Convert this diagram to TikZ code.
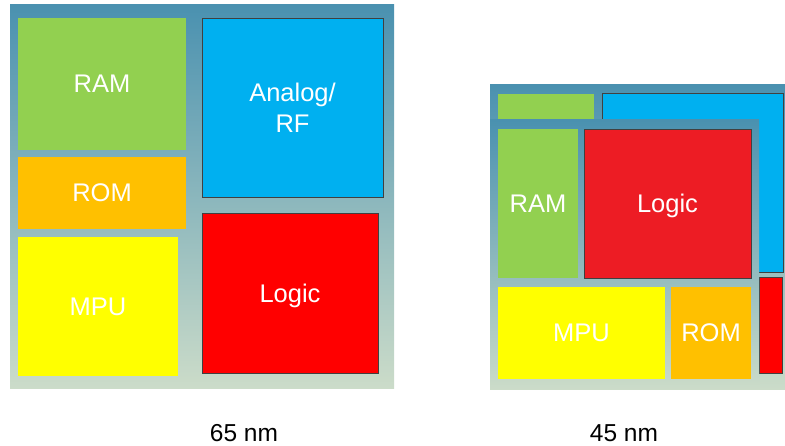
\documentclass[tikz,border=0pt]{standalone}
\usepackage{fontspec}
\setmainfont{Liberation Sans}
\usepackage{tikz}
\usetikzlibrary{positioning}

\definecolor{chiptop}{HTML}{4A91B0}
\definecolor{chipbot}{HTML}{CCDCC9}
\definecolor{ramgreen}{HTML}{92D050}
\definecolor{romorange}{HTML}{FFC000}
\definecolor{mpuyellow}{HTML}{FFFF00}
\definecolor{rfblue}{HTML}{00B0F0}
\definecolor{logicred}{HTML}{FF0000}
\definecolor{logicdark}{HTML}{ED1C24}

\tikzset{
  panel/.style={anchor=north west, inner sep=0pt, outer sep=0pt,
    top color=chiptop, bottom color=chipbot, draw=none},
  blk/.style={anchor=north west, inner sep=0pt, outer sep=0pt, text=white,
    align=center, text depth=0pt, font=\fontsize{25.5}{31}\selectfont},
  edged/.style={draw=black!75, line width=0.8pt},
  sizelbl/.style={font=\fontsize{24.5}{29}\selectfont, text=black}
}

\begin{document}
\begin{tikzpicture}[x=1pt, y=-1pt]
      \useasboundingbox (0,0) rectangle (785,446);

      % 65 nm chip
      \node[panel, minimum width=384pt, minimum height=384pt] (chip65) at (10,5) {};
      \node[blk, fill=ramgreen, minimum width=168pt, minimum height=132pt] (ram65) at (18,18) {RAM};
      \node[blk, fill=romorange, minimum width=168pt, minimum height=72pt] (rom65) at (18,157) {ROM};
      \node[blk, fill=mpuyellow, minimum width=160pt, minimum height=139pt] (mpu65) at (18,237) {MPU};
      \node[blk, edged, fill=rfblue, minimum width=181pt, minimum height=179pt] (rf65) at (202,18) {Analog/\\RF};
      \node[blk, edged, fill=logicred, minimum width=176pt, minimum height=160pt] (logic65) at (202,213) {Logic};

      % 45 nm chip, old floorplan behind
      \node[panel, minimum width=295pt, minimum height=305pt] (old45) at (490,85) {};
      \node[blk, fill=ramgreen, minimum width=96pt, minimum height=30pt] (oldram45) at (498,94) {};
      \node[blk, edged, fill=rfblue, minimum width=181pt, minimum height=179pt] (oldrf45) at (602,93) {};
      \node[blk, edged, fill=logicred, minimum width=23pt, minimum height=96pt] (oldlogic45) at (759,277) {};

      % 45 nm chip, shrunk floorplan
      \node[panel, minimum width=269pt, minimum height=270pt] (chip45) at (490,120) {};
      \node[blk, fill=ramgreen, minimum width=80pt, minimum height=149pt] (ram45) at (498,129) {RAM};
      \node[blk, edged, fill=logicdark, minimum width=167pt, minimum height=149pt] (logic45) at (584,129) {Logic};
      \node[blk, fill=mpuyellow, minimum width=167pt, minimum height=92pt] (mpu45) at (498,287) {MPU};
      \node[blk, fill=romorange, minimum width=80pt, minimum height=92pt] (rom45) at (671,287) {ROM};

      % captions
      \node[sizelbl] (lbl65) at (244,433) {65 nm};
      \node[sizelbl] (lbl45) at (624,433) {45 nm};
\end{tikzpicture}
\end{document}
